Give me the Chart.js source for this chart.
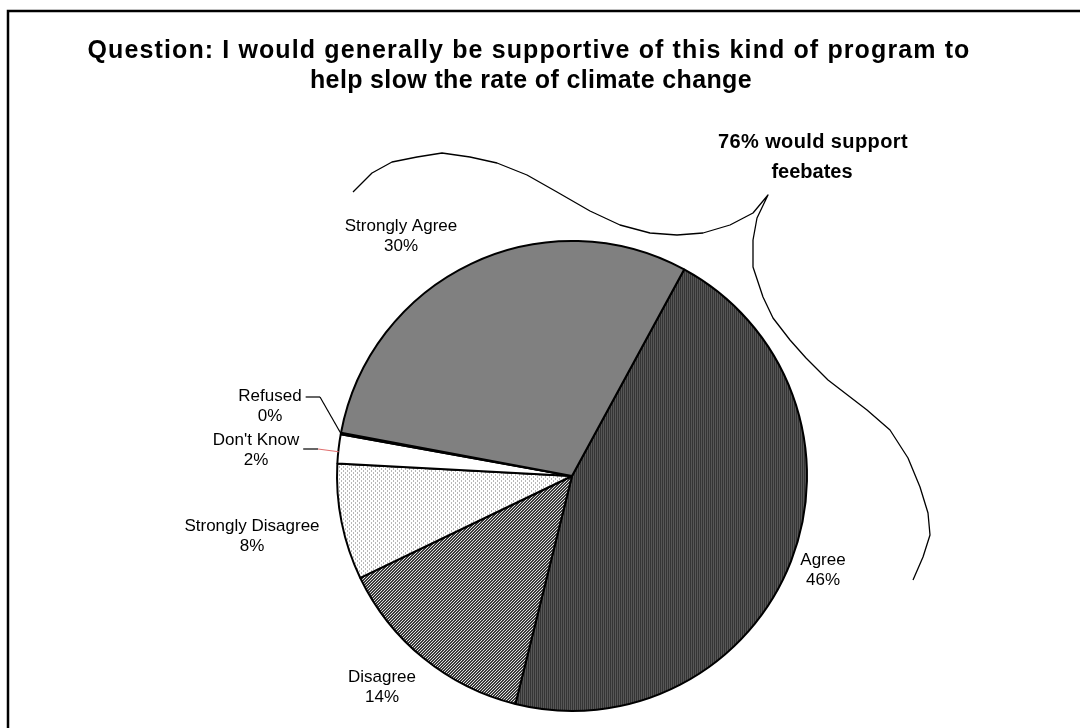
<!DOCTYPE html>
<html lang="en">
<head>
  <meta charset="UTF-8" />
  <title>Feebates support</title>
  <script src="https://cdn.jsdelivr.net/npm/chart.js"></script>
  <style>
    body { margin: 0; background: #fff; }
    #wrap { width: 1080px; height: 728px; position: relative; }
  </style>
</head>
<body>
  <div id="wrap"><canvas id="pieChart"></canvas></div>

  <script>
    // data (clockwise, starting at the Agree slice)
    const categories = ['Agree', 'Disagree', 'Strongly Disagree', "Don't Know", 'Refused', 'Strongly Agree'];
    const shares = [46, 14, 8, 2, 0.1, 30];
    const titleLines = ['Question: I would generally be supportive of this kind of program to', 'help slow the rate of climate change'];
    const calloutLines = ['76% would support', 'feebates'];

    // where each label sits (text centre of first line)
    const labelSpots = [[823, 560], [382, 677], [252, 526], [256, 440], [270, 396], [401, 226]];
    // leader lines for the thin slices: [index, elbow x, y]
    const leaders = [[4, 320, 397], [3, 318, 449]];

    function makePattern(size, draw) {
      const c = document.createElement('canvas');
      c.width = size; c.height = size;
      const g = c.getContext('2d');
      draw(g);
      return document.createElement('canvas').getContext('2d').createPattern(c, 'repeat');
    }

    // dark vertical stripes
    const agreeFill = makePattern(2, g => {
      g.fillStyle = '#353535'; g.fillRect(0, 0, 1, 2);
      g.fillStyle = '#575757'; g.fillRect(1, 0, 1, 2);
    });
    // diagonal black / white
    const disagreeFill = makePattern(3, g => {
      g.fillStyle = '#3a3a3a'; g.fillRect(0, 0, 3, 3);
      g.fillStyle = '#e0e0e0';
      for (let i = 0; i < 3; i++) g.fillRect(i, 2 - i, 1, 1);
    });
    // light dotted
    const sdFill = makePattern(4, g => {
      g.fillStyle = '#ffffff'; g.fillRect(0, 0, 4, 4);
      g.fillStyle = '#b8b8b8';
      g.fillRect(1, 0, 1, 2);
      g.fillRect(3, 2, 1, 2);
    });

    const fills = [agreeFill, disagreeFill, sdFill, '#ffffff', '#ffffff', '#808080'];

    // freeform bracket drawn by hand in the original
    const bracket = [
      [353,192],[372,173],[392,162],[417,157],[442,153],[470,157],[497,163],[527,175],[557,192],
      [590,211],[620,225],[650,233],[677,235],[703,233],[730,225],[753,213],[768,195],
      [757,218],[753,240],[753,267],[763,297],[773,318],[790,340],[806,358],[828,380],[867,410],
      [890,430],[908,458],[920,487],[928,513],[930,535],[923,557],[913,580]
    ];

    // fill a centred line to a given width by spacing the letters
    function spreadText(ctx, text, cx, y, width) {
      ctx.letterSpacing = '0px';
      const w = ctx.measureText(text).width;
      ctx.letterSpacing = Math.max(0, (width - w) / text.length) + 'px';
      ctx.fillText(text, cx, y);
      ctx.letterSpacing = '0px';
    }

    const decor = {
      id: 'decor',
      beforeDraw(chart) {
        const ctx = chart.ctx;
        ctx.save();
        ctx.fillStyle = '#fff';
        ctx.fillRect(0, 0, chart.width, chart.height);
        ctx.restore();
      },
      afterDraw(chart) {
        const ctx = chart.ctx;
        ctx.save();

        // frame
        ctx.strokeStyle = '#000';
        ctx.lineWidth = 2.5;
        ctx.strokeRect(8, 11, 1100, 760);

        // title
        ctx.fillStyle = '#000';
        ctx.textAlign = 'center';
        ctx.textBaseline = 'middle';
        ctx.font = 'bold 25px "Liberation Sans", Arial, sans-serif';
        spreadText(ctx, titleLines[0], 529, 51, 883);
        spreadText(ctx, titleLines[1], 531, 81, 442);

        // callout
        ctx.font = 'bold 20px "Liberation Sans", Arial, sans-serif';
        spreadText(ctx, calloutLines[0], 813, 142, 190);
        spreadText(ctx, calloutLines[1], 812, 172, 76);

        // bracket
        ctx.lineWidth = 1.3;
        ctx.lineJoin = 'round';
        ctx.beginPath();
        bracket.forEach((p, i) => i ? ctx.lineTo(p[0], p[1]) : ctx.moveTo(p[0], p[1]));
        ctx.stroke();

        // slice labels
        const meta = chart.getDatasetMeta(0);
        const total = shares.reduce((a, b) => a + b, 0);
        ctx.font = '17px "Liberation Sans", Arial, sans-serif';
        const rightEdge = {};
        categories.forEach((name, i) => {
          const [x, y] = labelSpots[i];
          ctx.fillText(name, x, y);
          ctx.fillText(Math.round(shares[i] / total * 100) + '%', x, y + 20);
          rightEdge[i] = x + ctx.measureText(name).width / 2;
        });

        // leader lines
        ctx.lineWidth = 1.2;
        leaders.forEach(([i, xe, y]) => {
          const arc = meta.data[i];
          const mid = (arc.startAngle + arc.endAngle) / 2;
          const ex = arc.x + Math.cos(mid) * arc.outerRadius;
          const ey = arc.y + Math.sin(mid) * arc.outerRadius;
          ctx.strokeStyle = '#000';
          ctx.beginPath();
          ctx.moveTo(Math.min(rightEdge[i] + 4, xe - 6), y);
          ctx.lineTo(xe, y);
          ctx.stroke();
          ctx.strokeStyle = i === 3 ? '#e07070' : '#000';
          ctx.beginPath();
          ctx.moveTo(xe, y);
          ctx.lineTo(ex, ey + (i === 3 ? 3 : 0));
          ctx.stroke();
        });

        ctx.restore();
      }
    };

    new Chart(document.getElementById('pieChart'), {
      type: 'pie',
      data: {
        labels: categories,
        datasets: [{
          data: shares,
          backgroundColor: fills,
          borderColor: '#000',
          borderWidth: 2
        }]
      },
      options: {
        responsive: true,
        maintainAspectRatio: false,
        animation: false,
        rotation: 28.5,
        layout: { padding: { left: 336, right: 272, top: 240, bottom: 16 } },
        plugins: {
          legend: { display: false },
          tooltip: { enabled: false }
        }
      },
      plugins: [decor]
    });
  </script>
</body>
</html>
